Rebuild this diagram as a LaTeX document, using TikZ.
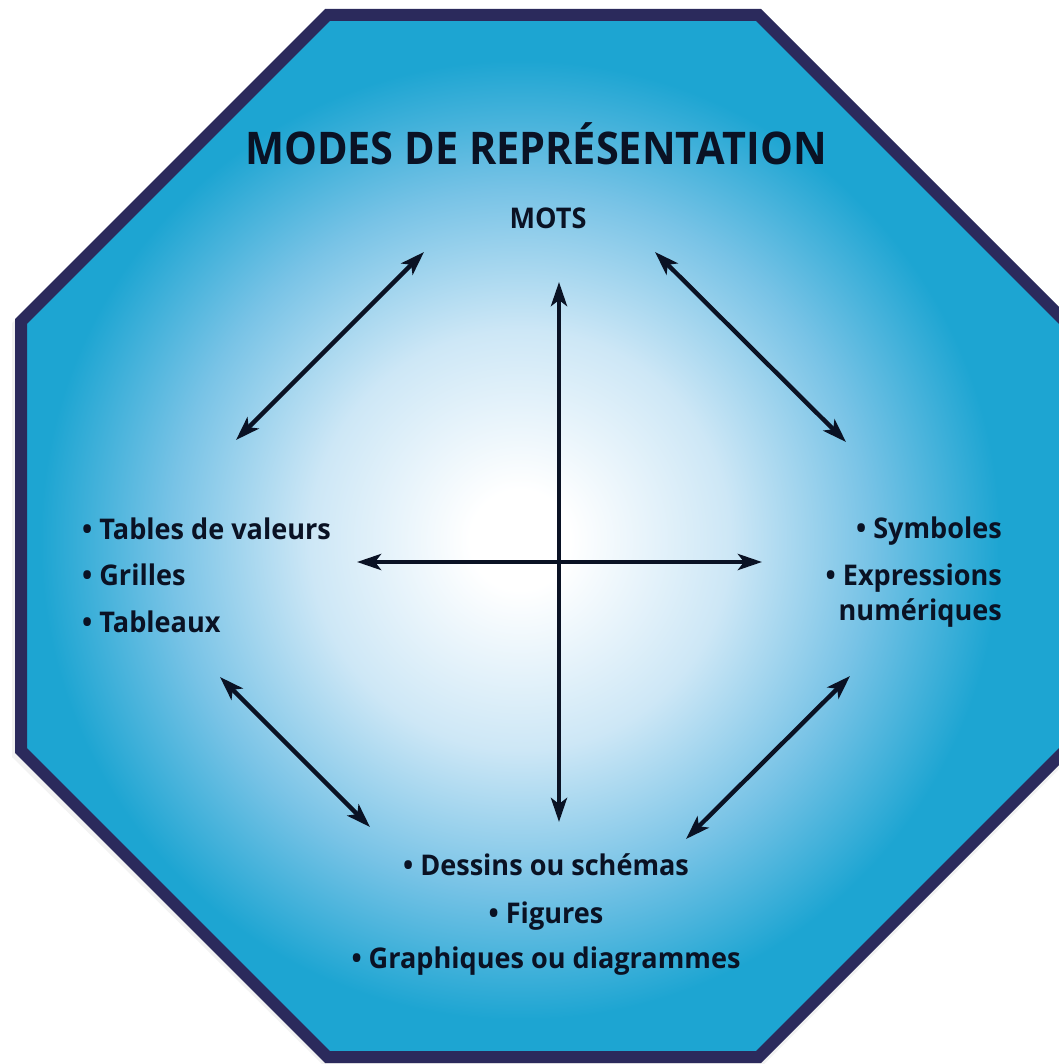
\documentclass[tikz,border=0pt]{standalone}
\usepackage{fontspec}
\setmainfont[FakeStretch=0.95]{Open Sans}
\newfontfamily\titlefont[FakeStretch=0.92]{Open Sans}
\usetikzlibrary{arrows.meta}
\definecolor{octblue}{RGB}{29,165,210}
\definecolor{octborder}{RGB}{43,42,92}
\definecolor{ink}{RGB}{10,18,36}
\definecolor{glowA}{RGB}{205,231,246}
\definecolor{glowB}{RGB}{120,195,230}
\pgfdeclareradialshading{glow}{\pgfpoint{0bp}{0bp}}{color(0bp)=(white); color(2.5bp)=(white); color(10.5bp)=(glowA); color(17.5bp)=(glowB); color(24bp)=(octblue); color(25bp)=(octblue); color(50bp)=(octblue)}
\begin{document}
\begin{tikzpicture}[x=1pt,y=-1pt,
  arr/.style={line width=4.4pt, draw=ink, {Stealth[length=24pt,width=16pt,inset=6pt]}-{Stealth[length=24pt,width=16pt,inset=6pt]}},
  lbl/.style={font=\bfseries\fontsize{28.5}{34}\selectfont, text=ink, inner sep=0pt},
  ttl/.style={font=\titlefont\bfseries\fontsize{45}{50}\selectfont, text=ink, inner sep=0pt}]
\useasboundingbox (0,0) rectangle (1058,1064);
\def\octpath{(327.5,15) -- (758.5,15) -- (1065,321.5) -- (1065,750.5) -- (758.5,1057) -- (327.5,1057) -- (21,750.5) -- (21,321.5) -- cycle}
% soft shadow
\fill[black!20, opacity=0.25] (325,13) -- (761,13) -- (1071,323) -- (1071,757) -- (761,1067) -- (325,1067) -- (12,757) -- (12,323) -- cycle;
\begin{scope}
  \clip \octpath;
  \fill[octblue] \octpath;
  \shade[shading=glow] (520,540) circle (500);
\end{scope}
\draw[octborder, line width=12pt, line join=miter] \octpath;

% texts
\node[ttl, anchor=base] (title) at (536,165) {MODES DE REPRÉSENTATION};
\node[lbl, anchor=base] (mots) at (548,229) {MOTS};
\node[lbl, anchor=base west] (tab1) at (82,539) {• Tables de valeurs};
\node[lbl, anchor=base west] (tab2) at (82,585) {• Grilles};
\node[lbl, anchor=base west] (tab3) at (82,632) {• Tableaux};
\node[lbl, anchor=base east] (sym1) at (1002,538) {• Symboles};
\node[lbl, anchor=base east] (sym2) at (1002,585) {• Expressions};
\node[lbl, anchor=base east] (sym3) at (1002,620) {numériques};
\node[lbl, anchor=base] (des1) at (546,875) {• Dessins ou schémas};
\node[lbl, anchor=base] (des2) at (546,923) {• Figures};
\node[lbl, anchor=base] (des3) at (546,968) {• Graphiques ou diagrammes};

% arrow end points
\coordinate (vT) at (559,282);
\coordinate (vB) at (559,822);
\coordinate (hL) at (357,562);
\coordinate (hR) at (762,562);
\coordinate (tlA) at (236,440);
\coordinate (tlB) at (424,252);
\coordinate (trA) at (655,252);
\coordinate (trB) at (846,442);
\coordinate (blA) at (220,677);
\coordinate (blB) at (370,827);
\coordinate (brA) at (850,676);
\coordinate (brB) at (686,839);

\draw[arr] (vT) -- (vB);
\draw[arr] (hL) -- (hR);
\draw[arr] (tlA) -- (tlB);
\draw[arr] (trA) -- (trB);
\draw[arr] (blA) -- (blB);
\draw[arr] (brA) -- (brB);
\end{tikzpicture}
\end{document}
